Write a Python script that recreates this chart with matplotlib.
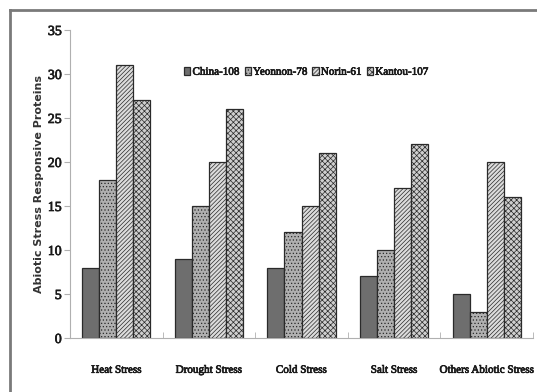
import matplotlib
matplotlib.use("Agg")
import matplotlib.pyplot as plt
import matplotlib.patheffects as pe
from matplotlib.lines import Line2D
import numpy as np

# ============================================================
# DATA
# ============================================================
categories = ["Heat Stress", "Drought Stress", "Cold Stress", "Salt Stress", "Others Abiotic Stress"]
series_names = ["China-108", "Yeonnon-78", "Norin-61", "Kantou-107"]
china_108 = [8, 9, 8, 7, 5]
yeonnon_78 = [18, 15, 12, 10, 3]
norin_61 = [31, 20, 15, 17, 20]
kantou_107 = [27, 26, 21, 22, 16]

plt.rcParams['font.family'] = 'Liberation Serif'
plt.rcParams['hatch.linewidth'] = 0.5
plt.rcParams['hatch.color'] = '#555555'
heavy = [pe.withStroke(linewidth=0.5, foreground='#1a1a1a')]

# ============================================================
# FIGURE
# ============================================================
W, H = 537, 392
fig = plt.figure(figsize=(W / 100, H / 100), dpi=100)
ax = fig.add_axes([70 / W, (H - 338) / H, (533 - 70) / W, 308 / H])

# outer frame (only top and left visible)
fig.add_artist(Line2D([10 / W, 1.0], [1 - 10 / H, 1 - 10 / H], color='#7a7a7a', lw=2.0))
fig.add_artist(Line2D([10 / W, 10 / W], [0.0, 1 - 10 / H], color='#7a7a7a', lw=2.0))

x = np.arange(len(categories))
bw = 0.184
styles = [
    dict(facecolor='#6e6e6e', hatch=None),
    dict(facecolor='#b0b0b0', hatch='.....'),
    dict(facecolor='#dcdcdc', hatch='////////'),
    dict(facecolor='#cfcfcf', hatch='xxxxxx'),
]
all_vals = [china_108, yeonnon_78, norin_61, kantou_107]
for i, (vals, name, st) in enumerate(zip(all_vals, series_names, styles)):
    ax.bar(x + (i - 1.5) * bw, vals, width=bw, label=name, facecolor=st['facecolor'],
           hatch=st['hatch'], edgecolor='#2a2a2a', linewidth=0.9)

ax.set_xlim(-0.5, len(categories) - 0.5)
ax.set_ylim(0, 35)
ax.set_yticks(range(0, 36, 5))
ax.set_yticklabels([str(v) for v in range(0, 36, 5)], fontsize=10, color='#1a1a1a',
                   path_effects=heavy)
ax.set_xticks(np.arange(len(categories) + 1) - 0.5, minor=True)
ax.set_xticks(x)
ax.set_xticklabels(categories, fontsize=8, color='#1a1a1a', path_effects=heavy)
ax.tick_params(axis='x', which='major', length=0, pad=20)
ax.tick_params(axis='x', which='minor', length=4, color='#b0b0b0', direction='in')
ax.tick_params(axis='y', length=4, color='#b0b0b0', pad=2)

for s in ['top', 'right']:
    ax.spines[s].set_visible(False)
for s in ['left', 'bottom']:
    ax.spines[s].set_color('#b0b0b0')
    ax.spines[s].set_linewidth(0.8)

ax.set_ylabel('Abiotic Stress Responsive Proteins', family='DejaVu Sans', fontsize=8,
              fontweight='bold', color='#333333', labelpad=3)

leg = ax.legend(loc='upper left', bbox_to_anchor=(0.237, 0.895), ncol=4, frameon=False,
                prop={'family': 'Liberation Serif', 'size': 8},
                handlelength=0.55, handleheight=0.75, handletextpad=0.2, columnspacing=0.45,
                borderaxespad=0)
for t in leg.get_texts():
    t.set_path_effects(heavy)
    t.set_color('#1a1a1a')

fig.savefig('out.png', dpi=100, facecolor='white')
